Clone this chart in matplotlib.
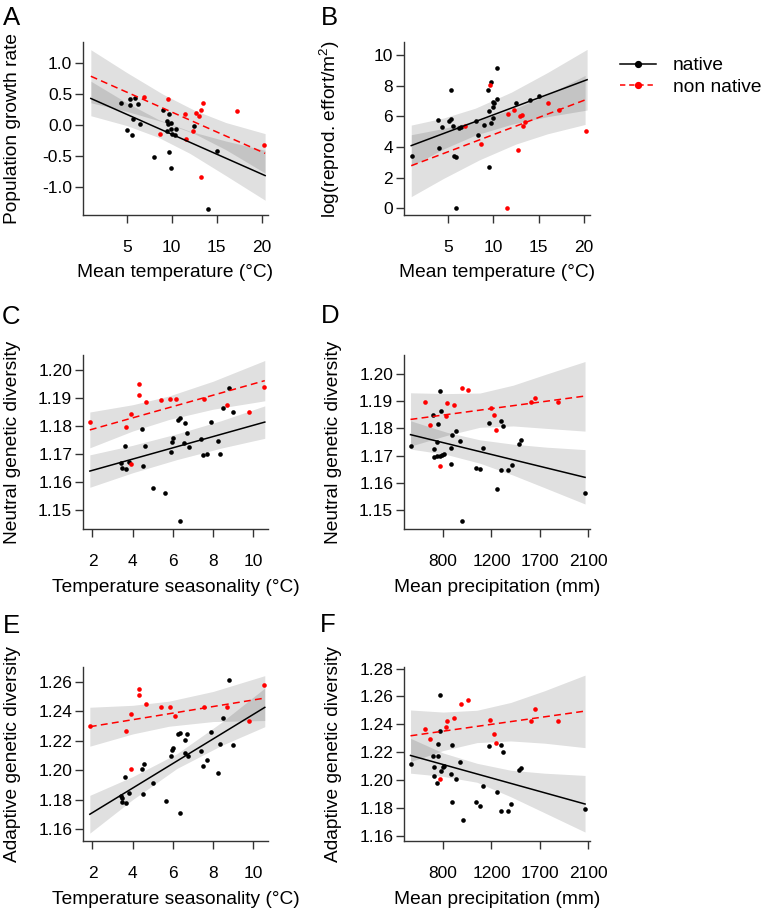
import numpy as np
import matplotlib
matplotlib.use('Agg')
import matplotlib.pyplot as plt
from matplotlib.lines import Line2D

plt.rcParams['font.family'] = ['Liberation Sans', 'DejaVu Sans']
plt.rcParams['mathtext.fontset'] = 'custom'
plt.rcParams['mathtext.rm'] = 'Liberation Sans'
plt.rcParams['mathtext.it'] = 'Liberation Sans:italic'
plt.rcParams['mathtext.bf'] = 'Liberation Sans:bold'

# ---------------- Panel A: population growth rate vs mean temperature
A_nat_x = [4.37, 5.37, 5.37, 5.96, 6.22, 5.74, 6.44, 5.07, 5.56, 9.0, 9.41, 9.74, 9.63, 9.93, 9.52,
           9.93, 10.41, 10.07, 10.37, 12.44, 8.04, 9.74, 9.96, 15.04, 14.07]
A_nat_y = [0.35, 0.42, 0.32, 0.44, 0.34, 0.10, 0.01, -0.08, -0.17, 0.25, 0.07, 0.17, 0.01, 0.03, -0.09,
           -0.07, -0.07, -0.15, -0.16, -0.02, -0.52, -0.43, -0.70, -0.42, -1.36]
A_non_x = [6.89, 9.56, 11.48, 12.74, 13.0, 13.22, 13.52, 17.26, 20.3, 8.67, 11.63, 12.37, 13.26]
A_non_y = [0.46, 0.42, 0.17, 0.19, 0.15, 0.25, 0.36, 0.22, -0.33, -0.15, -0.22, -0.10, -0.85]
A_fit_x = [1.0, 20.37]
A_fit_nat = [0.43, -0.82]
A_fit_non = [0.79, -0.46]
A_band_nat_x = [1.0, 5.0, 8.5, 12.0, 16.0, 20.37]
A_band_nat_lo = [0.15, -0.01, -0.20, -0.46, -0.82, -1.22]
A_band_nat_hi = [0.71, 0.36, 0.09, -0.10, -0.26, -0.41]
A_band_non_x = [1.0, 5.0, 9.0, 12.5, 16.0, 20.37]
A_band_non_lo = [0.36, 0.22, 0.05, -0.14, -0.40, -0.78]
A_band_non_hi = [1.22, 0.85, 0.50, 0.24, 0.04, -0.14]

# ---------------- Panel B: log reproductive effort vs mean temperature
B_nat_x = [0.96, 3.89, 4.0, 4.33, 5.07, 5.33, 5.37, 5.56, 5.70, 5.89, 5.93, 6.22, 6.48, 8.04, 8.33,
           8.96, 9.41, 9.56, 9.70, 9.74, 9.93, 9.93, 10.0, 10.04, 10.37, 10.41, 9.52, 12.48, 14.07, 15.0]
B_nat_y = [3.41, 5.78, 3.96, 5.30, 5.67, 7.70, 5.80, 5.37, 3.41, 3.33, 0.0, 5.26, 5.30, 5.72, 4.80,
           5.41, 7.70, 6.35, 8.22, 5.54, 5.87, 6.91, 6.63, 6.89, 7.11, 9.13, 2.72, 6.89, 7.07, 7.33]
B_non_x = [6.89, 8.59, 9.59, 11.63, 11.48, 12.33, 12.70, 12.93, 13.15, 13.26, 13.56, 16.0, 17.22, 20.3]
B_non_y = [5.37, 4.22, 8.02, 6.15, 0.0, 6.43, 3.80, 6.02, 6.07, 5.39, 5.65, 6.89, 6.41, 5.07]
B_fit_nat_x = [0.93, 20.37]
B_fit_nat = [4.09, 8.39]
B_fit_non_x = [0.93, 20.15]
B_fit_non = [2.78, 7.07]
B_band_nat_x = [0.93, 4.5, 8.0, 12.0, 16.0, 20.37]
B_band_nat_lo = [2.75, 3.87, 4.77, 5.48, 5.98, 6.41]
B_band_nat_hi = [5.43, 5.89, 6.53, 7.58, 8.86, 10.37]
B_band_non_x = [0.93, 4.5, 8.5, 12.5, 16.0, 20.15]
B_band_non_lo = [0.76, 1.95, 3.17, 4.19, 4.86, 5.47]
B_band_non_hi = [4.80, 5.21, 5.77, 6.53, 7.42, 8.67]

# ---------------- Panel C: neutral genetic diversity vs temperature seasonality
C_nat_x = [3.41, 3.49, 3.68, 3.63, 3.81, 4.47, 4.52, 4.61, 5.02, 5.63, 5.90, 5.97, 6.0, 6.25, 6.35,
           6.35, 6.55, 6.58, 6.71, 6.78, 7.41, 7.48, 7.68, 7.88, 8.24, 8.32, 8.51, 8.79, 9.0]
C_nat_y = [1.1667, 1.1649, 1.1646, 1.1730, 1.1670, 1.1790, 1.1657, 1.1730, 1.1580, 1.1562, 1.1707,
           1.1742, 1.1757, 1.1820, 1.1827, 1.1461, 1.1738, 1.1810, 1.1776, 1.1726, 1.1752, 1.1696,
           1.1701, 1.1815, 1.1748, 1.1699, 1.1863, 1.1936, 1.1849]
C_non_x = [1.88, 3.68, 3.94, 3.91, 4.31, 4.31, 4.66, 5.40, 5.88, 6.13, 7.53, 8.71, 9.77, 10.55]
C_non_y = [1.1813, 1.1796, 1.1843, 1.1663, 1.1949, 1.1911, 1.1885, 1.1892, 1.1895, 1.1896, 1.1896,
           1.1875, 1.1850, 1.1939]
C_fit_x = [1.87, 10.57]
C_fit_nat = [1.1639, 1.1814]
C_fit_non = [1.1786, 1.1962]
C_band_nat_x = [1.87, 4.0, 6.2, 8.4, 10.57]
C_band_nat_lo = [1.1581, 1.1633, 1.1680, 1.1721, 1.1756]
C_band_nat_hi = [1.1697, 1.1731, 1.1772, 1.1819, 1.1872]
C_band_non_x = [1.87, 4.0, 5.8, 8.0, 10.57]
C_band_non_lo = [1.1722, 1.1782, 1.1823, 1.1860, 1.1890]
C_band_non_hi = [1.1850, 1.1876, 1.1907, 1.1960, 1.2034]

# ---------------- Panel D: neutral genetic diversity vs mean precipitation
D_nat_x = [530, 717, 725, 723, 753, 759, 750, 772, 775, 781, 792, 806, 869, 866, 877, 910, 941, 960,
           1073, 1104, 1134, 1178, 1259, 1300, 1321, 1303, 1376, 1410, 1483, 1507, 2072]
D_nat_y = [1.1737, 1.1848, 1.1724, 1.1696, 1.1749, 1.1815, 1.1697, 1.1700, 1.1938, 1.1864, 1.1702,
           1.1706, 1.1729, 1.1668, 1.1776, 1.1789, 1.1752, 1.1460, 1.1656, 1.1650, 1.1729, 1.1820,
           1.1578, 1.1828, 1.1809, 1.1648, 1.1646, 1.1665, 1.1741, 1.1756, 1.1561]
D_non_x = [648, 695, 772, 825, 830, 894, 954, 1004, 1194, 1231, 1248, 1610, 1652, 1852]
D_non_y = [1.1897, 1.1813, 1.1662, 1.1844, 1.1892, 1.1885, 1.1949, 1.1941, 1.1875, 1.1849, 1.1795,
           1.1897, 1.1911, 1.1896]
D_fit_x = [530, 2075]
D_fit_nat = [1.1777, 1.1620]
D_fit_non = [1.1833, 1.1919]
D_band_x = [530, 828, 1104, 1425, 1756, 2075]
D_band_nat_lo = [1.1724, 1.1704, 1.1672, 1.1628, 1.1579, 1.1522]
D_band_nat_hi = [1.1828, 1.1786, 1.1758, 1.1742, 1.1731, 1.1722]
D_band_non_lo = [1.1735, 1.1774, 1.1804, 1.1809, 1.1800, 1.1790]
D_band_non_hi = [1.1931, 1.1928, 1.1930, 1.1959, 1.2000, 1.2046]

# ---------------- Panel E: adaptive genetic diversity vs temperature seasonality
E_nat_x = [3.41, 3.49, 3.48, 3.66, 3.63, 3.81, 4.46, 4.57, 4.52, 5.02, 5.65, 5.90, 5.97, 6.02, 6.23,
           6.37, 6.35, 6.58, 6.58, 6.71, 6.76, 7.41, 7.49, 7.68, 7.88, 8.24, 8.32, 8.51, 8.79, 9.0]
E_nat_y = [1.1823, 1.1810, 1.1783, 1.1778, 1.1954, 1.1846, 1.2009, 1.2040, 1.1837, 1.1912, 1.1792,
           1.2097, 1.2137, 1.2149, 1.2246, 1.2252, 1.1713, 1.2203, 1.2117, 1.2246, 1.2097, 1.2130,
           1.2029, 1.2070, 1.2261, 1.1984, 1.2178, 1.2352, 1.2611, 1.2171]
E_non_x = [1.88, 3.68, 3.94, 3.91, 4.31, 4.31, 4.66, 5.40, 5.88, 6.12, 7.53, 8.71, 9.77, 10.55]
E_non_y = [1.2298, 1.2268, 1.2383, 1.2006, 1.2548, 1.2507, 1.2447, 1.2428, 1.2431, 1.2367, 1.2428,
           1.2428, 1.2334, 1.2577]
E_fit_x = [1.87, 10.57]
E_fit_nat = [1.1702, 1.2426]
E_fit_non = [1.2295, 1.2489]
E_band_nat_x = [1.87, 4.0, 6.2, 8.4, 10.57]
E_band_nat_lo = [1.1574, 1.1801, 1.2012, 1.2167, 1.2295]
E_band_nat_hi = [1.1830, 1.1957, 1.2112, 1.2323, 1.2557]
E_band_non_x = [1.87, 4.0, 5.8, 8.0, 10.57]
E_band_non_lo = [1.2163, 1.2246, 1.2298, 1.2330, 1.2337]
E_band_non_hi = [1.2427, 1.2440, 1.2468, 1.2534, 1.2641]

# ---------------- Panel F: adaptive genetic diversity vs mean precipitation
F_nat_x = [530, 717, 725, 725, 750, 756, 759, 775, 778, 783, 803, 808, 872, 869, 872, 910, 941, 963,
           1073, 1104, 1134, 1178, 1259, 1300, 1321, 1303, 1372, 1407, 1483, 1507, 2072]
F_nat_y = [1.2115, 1.2173, 1.2096, 1.2027, 1.1982, 1.2175, 1.2261, 1.2609, 1.2352, 1.2068, 1.2096,
           1.2101, 1.2249, 1.2041, 1.1846, 1.2010, 1.2127, 1.1715, 1.1841, 1.1812, 1.1956, 1.2247,
           1.1913, 1.2249, 1.2204, 1.1781, 1.1781, 1.1827, 1.2070, 1.2084, 1.1793]
F_non_x = [648, 695, 772, 825, 833, 894, 952, 1004, 1192, 1231, 1248, 1610, 1652, 1852]
F_non_y = [1.2366, 1.2294, 1.2006, 1.2383, 1.2425, 1.2445, 1.2545, 1.2573, 1.2428, 1.2330, 1.2263,
           1.2425, 1.2507, 1.2425]
F_fit_x = [530, 2075]
F_fit_nat = [1.2177, 1.1829]
F_fit_non = [1.2318, 1.2495]
F_band_x = [530, 800, 1080, 1400, 1740, 2075]
F_band_nat_lo = [1.2050, 1.2027, 1.1985, 1.1881, 1.1766, 1.1628]
F_band_nat_hi = [1.2300, 1.2195, 1.2121, 1.2071, 1.2050, 1.2034]
F_band_non_lo = [1.2133, 1.2212, 1.2269, 1.2281, 1.2265, 1.2233]
F_band_non_hi = [1.2503, 1.2488, 1.2501, 1.2557, 1.2641, 1.2753]

# ---------------- axis ticks / labels
temp_ticks = [5, 10, 15, 20]
seas_ticks = [2, 4, 6, 8, 10]
prec_ticks = [800, 1200, 1700, 2100]
A_yticks = [-1.0, -0.5, 0.0, 0.5, 1.0]
A_ylabels = ['-1.0', '-0.5', '0.0', '0.5', '1.0']
B_yticks = [0, 2, 4, 6, 8, 10]
CD_yticks = [1.15, 1.16, 1.17, 1.18, 1.19, 1.20]
E_yticks = [1.16, 1.18, 1.20, 1.22, 1.24, 1.26]
F_yticks = [1.16, 1.18, 1.20, 1.22, 1.24, 1.26, 1.28]

# precipitation axis: equally spaced labelled ticks (piecewise linear scale)
prec_knots = [0, 800, 1200, 1700, 2100, 5000]
prec_pos = [-2.0, 0.0, 1.0, 2.0, 3.0, 10.25]
def prec_fwd(v):
    return np.interp(v, prec_knots, prec_pos)
def prec_inv(p):
    return np.interp(p, prec_pos, prec_knots)

W, H = 762, 917
fig = plt.figure(figsize=(W / 100, H / 100), dpi=100)

RED = '#ff0000'
SPINE = '#333333'
BAND = (0, 0, 0, 0.12)
TICK_FS = 12.5
LAB_FS = 13.8

def add_ax(l, r, t, b):
    return fig.add_axes([l / W, 1 - b / H, (r - l) / W, (b - t) / H])

def panel(ax, nat, non, fit_nat, fit_non, band_nat, band_non, xlim, ylim,
          xticks, xticklabels, yticks, yticklabels, xlabel, ylabel, prec=False):
    if prec:
        ax.set_xscale('function', functions=(prec_fwd, prec_inv))
    ax.fill_between(band_nat[0], band_nat[1], band_nat[2], color=BAND, lw=0, zorder=1)
    ax.fill_between(band_non[0], band_non[1], band_non[2], color=BAND, lw=0, zorder=1)
    ax.scatter(nat[0], nat[1], s=11, color='black', lw=0, zorder=3)
    ax.scatter(non[0], non[1], s=11, color=RED, lw=0, zorder=3)
    ax.plot(fit_nat[0], fit_nat[1], color='black', lw=1.1, zorder=4)
    ax.plot(fit_non[0], fit_non[1], color=RED, lw=1.1, dashes=(4.5, 2.8), zorder=4)
    ax.set_xlim(*xlim)
    ax.set_ylim(*ylim)
    ax.set_xticks(xticks)
    ax.set_xticklabels(xticklabels)
    ax.set_yticks(yticks)
    ax.set_yticklabels(yticklabels)
    ax.minorticks_off()
    for s in ['top', 'right']:
        ax.spines[s].set_visible(False)
    for s in ['left', 'bottom']:
        ax.spines[s].set_color(SPINE)
        ax.spines[s].set_linewidth(1.0)
    ax.tick_params(direction='out', length=5.8, width=1.0, color=SPINE, labelsize=TICK_FS)
    ax.tick_params(axis='x', pad=12.5)
    ax.tick_params(axis='y', pad=2.0)
    ax.set_xlabel(xlabel, fontsize=LAB_FS)
    ax.set_ylabel(ylabel, fontsize=LAB_FS)
    ax.xaxis.set_label_coords(0.5, -0.285)
    ax.yaxis.set_label_coords(-0.335, 0.5)
    ax.set_facecolor('none')

L1, R1 = 83, 268
L2, R2 = 404, 590
rows = [(42, 215), (355, 529), (667, 841)]
temp_xlim = (0.13, 20.69)
seas_xlim = (1.53, 10.73)
prec_xlim = (prec_inv(-0.81), prec_inv(3.04))

axA = add_ax(L1, R1, *rows[0])
panel(axA, (A_nat_x, A_nat_y), (A_non_x, A_non_y), (A_fit_x, A_fit_nat), (A_fit_x, A_fit_non),
      (A_band_nat_x, A_band_nat_lo, A_band_nat_hi), (A_band_non_x, A_band_non_lo, A_band_non_hi),
      temp_xlim, (-1.459, 1.345), temp_ticks, [str(t) for t in temp_ticks],
      A_yticks, A_ylabels, 'Mean temperature (°C)', 'Population growth rate')

axB = add_ax(L2, R2, *rows[0])
panel(axB, (B_nat_x, B_nat_y), (B_non_x, B_non_y), (B_fit_nat_x, B_fit_nat), (B_fit_non_x, B_fit_non),
      (B_band_nat_x, B_band_nat_lo, B_band_nat_hi), (B_band_non_x, B_band_non_lo, B_band_non_hi),
      temp_xlim, (-0.437, 10.85), temp_ticks, [str(t) for t in temp_ticks],
      B_yticks, [str(t) for t in B_yticks], 'Mean temperature (°C)',
      'log(reprod. effort/m$^{2}$)')

axC = add_ax(L1, R1, *rows[1])
panel(axC, (C_nat_x, C_nat_y), (C_non_x, C_non_y), (C_fit_x, C_fit_nat), (C_fit_x, C_fit_non),
      (C_band_nat_x, C_band_nat_lo, C_band_nat_hi), (C_band_non_x, C_band_non_lo, C_band_non_hi),
      seas_xlim, (1.14321, 1.20536), seas_ticks, [str(t) for t in seas_ticks],
      CD_yticks, ['%.2f' % t for t in CD_yticks], 'Temperature seasonality (°C)',
      'Neutral genetic diversity')

axD = add_ax(L2, R2, *rows[1])
panel(axD, (D_nat_x, D_nat_y), (D_non_x, D_non_y), (D_fit_x, D_fit_nat), (D_fit_x, D_fit_non),
      (D_band_x, D_band_nat_lo, D_band_nat_hi), (D_band_x, D_band_non_lo, D_band_non_hi),
      prec_xlim, (1.14301, 1.20699), prec_ticks, [str(t) for t in prec_ticks],
      CD_yticks, ['%.2f' % t for t in CD_yticks], 'Mean precipitation (mm)',
      'Neutral genetic diversity', prec=True)

axE = add_ax(L1, R1, *rows[2])
panel(axE, (E_nat_x, E_nat_y), (E_non_x, E_non_y), (E_fit_x, E_fit_nat), (E_fit_x, E_fit_non),
      (E_band_nat_x, E_band_nat_lo, E_band_nat_hi), (E_band_non_x, E_band_non_lo, E_band_non_hi),
      seas_xlim, (1.15207, 1.26996), seas_ticks, [str(t) for t in seas_ticks],
      E_yticks, ['%.2f' % t for t in E_yticks], 'Temperature seasonality (°C)',
      'Adaptive genetic diversity')

axF = add_ax(L2, R2, *rows[2])
panel(axF, (F_nat_x, F_nat_y), (F_non_x, F_non_y), (F_fit_x, F_fit_nat), (F_fit_x, F_fit_non),
      (F_band_x, F_band_nat_lo, F_band_nat_hi), (F_band_x, F_band_non_lo, F_band_non_hi),
      prec_xlim, (1.1564, 1.2811), prec_ticks, [str(t) for t in prec_ticks],
      F_yticks, ['%.2f' % t for t in F_yticks], 'Mean precipitation (mm)',
      'Adaptive genetic diversity', prec=True)

# panel letters
for letter, (px, py) in zip('ABCDEF', [(3, 25), (321, 25), (2, 324), (321, 323), (3, 633), (320, 632)]):
    fig.text(px / W, 1 - py / H, letter, fontsize=18.5, ha='left', va='baseline')

# legend (outside the panels, top right)
leg_items = [('native', 'black', '-', 64), ('non native', RED, '--', 85)]
for lab, col, ls, py in leg_items:
    if ls == '-':
        ln = Line2D([620 / W, 656 / W], [1 - py / H, 1 - py / H], transform=fig.transFigure,
                    color=col, lw=1.1)
    else:
        ln = Line2D([620 / W, 656 / W], [1 - py / H, 1 - py / H], transform=fig.transFigure,
                    color=col, lw=1.1, dashes=(3.5, 2.5))
    fig.add_artist(ln)
    fig.add_artist(Line2D([638 / W], [1 - py / H], transform=fig.transFigure, color=col,
                          marker='o', markersize=4.2, lw=0))
    fig.text(673 / W, 1 - py / H, lab, fontsize=LAB_FS, ha='left', va='center_baseline')

fig.savefig('out.png', dpi=100)
